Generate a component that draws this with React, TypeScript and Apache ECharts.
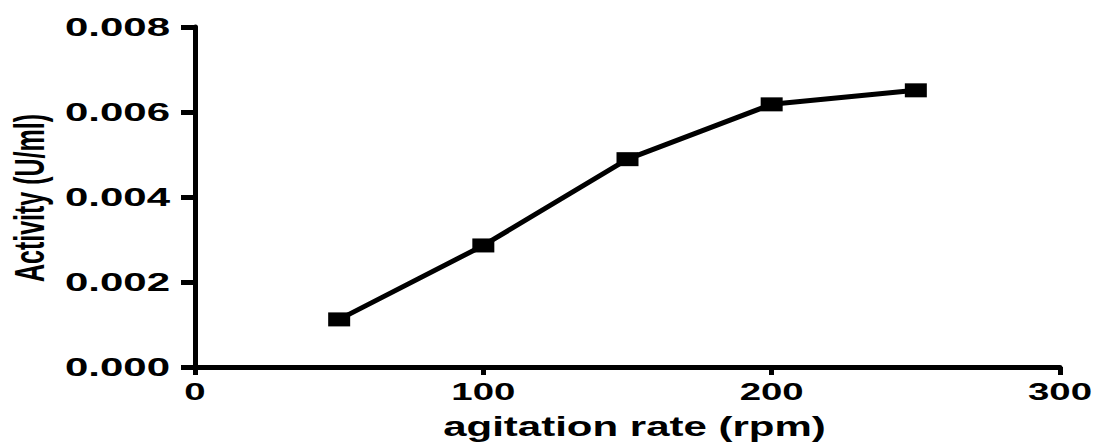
import React, { useEffect, useRef } from "react";
import * as echarts from "echarts";

const agitationRates = [50, 100, 150, 200, 250];
const activity = [0.00112, 0.00286, 0.00489, 0.00618, 0.00651];
const xTickValues = [0, 100, 200, 300];
const yTickValues = [0, 0.002, 0.004, 0.006, 0.008];
const xTitle = "agitation rate (rpm)";
const yTitle = "Activity (U/ml)";

const FONT = "'Liberation Sans', Arial, Helvetica, sans-serif";

export default function App() {
  const ref = useRef<HTMLDivElement>(null);
  useEffect(() => {
    document.body.style.margin = "0";
    const chart = echarts.init(ref.current!, null, { renderer: "svg" });
    const xMin = xTickValues[0];
    const xMax = xTickValues[xTickValues.length - 1];
    const yMin = yTickValues[0];
    const yMax = yTickValues[yTickValues.length - 1];
    chart.setOption({
      animation: false,
      backgroundColor: "#fff",
      grid: { left: 195, right: 37, top: 27, bottom: 78, containLabel: false },
      xAxis: {
        type: "value",
        min: xMin,
        max: xMax,
        interval: xTickValues[1] - xTickValues[0],
        axisLine: { show: true, onZero: false, lineStyle: { color: "#000", width: 5 } },
        axisTick: { show: true, length: 8, lineStyle: { color: "#000", width: 5 } },
        axisLabel: { show: false },
        splitLine: { show: false },
      },
      yAxis: {
        type: "value",
        min: yMin,
        max: yMax,
        interval: yTickValues[1] - yTickValues[0],
        axisLine: { show: true, lineStyle: { color: "#000", width: 5 } },
        axisTick: { show: true, length: 14, lineStyle: { color: "#000", width: 5 } },
        axisLabel: { show: false },
        splitLine: { show: false },
      },
      series: [
        {
          type: "line",
          data: agitationRates.map((x, i) => [x, activity[i]]),
          symbol: "rect",
          symbolSize: [22, 14],
          itemStyle: { color: "#000" },
          lineStyle: { color: "#000", width: 5 },
        },
      ],
    });

    const graphics: any[] = [];
    xTickValues.forEach((v) => {
      const [px] = chart.convertToPixel({ gridIndex: 0 }, [v, yMin]) as number[];
      graphics.push({
        type: "text",
        x: px,
        y: 392,
        scaleX: 1.6,
        silent: true,
        style: {
          text: String(v),
          fontFamily: FONT,
          fontWeight: "bold",
          fontSize: 24,
          fill: "#000",
          align: "center",
          verticalAlign: "middle",
        },
      });
    });
    yTickValues.forEach((v) => {
      const [, py] = chart.convertToPixel({ gridIndex: 0 }, [xMin, v]) as number[];
      graphics.push({
        type: "text",
        x: 170,
        y: py,
        scaleX: 1.68,
        silent: true,
        style: {
          text: v.toFixed(3),
          fontFamily: FONT,
          fontWeight: "bold",
          fontSize: 25,
          fill: "#000",
          align: "right",
          verticalAlign: "middle",
        },
      });
    });
    const [xa] = chart.convertToPixel({ gridIndex: 0 }, [xMin, yMin]) as number[];
    const [xb] = chart.convertToPixel({ gridIndex: 0 }, [xMax, yMin]) as number[];
    graphics.push({
      type: "text",
      x: (xa + xb) / 2 + 7,
      y: 427,
      scaleX: 1.5,
      silent: true,
      style: {
        text: xTitle,
        fontFamily: FONT,
        fontWeight: "bold",
        fontSize: 28,
        fill: "#000",
        align: "center",
        verticalAlign: "middle",
      },
    });
    graphics.push({
      type: "text",
      x: 29,
      y: 198,
      rotation: Math.PI / 2,
      scaleY: 1.7,
      silent: true,
      style: {
        text: yTitle,
        fontFamily: FONT,
        fontWeight: "bold",
        fontSize: 25,
        fill: "#000",
        align: "center",
        verticalAlign: "middle",
      },
    });
    chart.setOption({ graphic: graphics });
    return () => chart.dispose();
  }, []);
  return <div ref={ref} style={{ width: 1097, height: 445 }} />;
}
